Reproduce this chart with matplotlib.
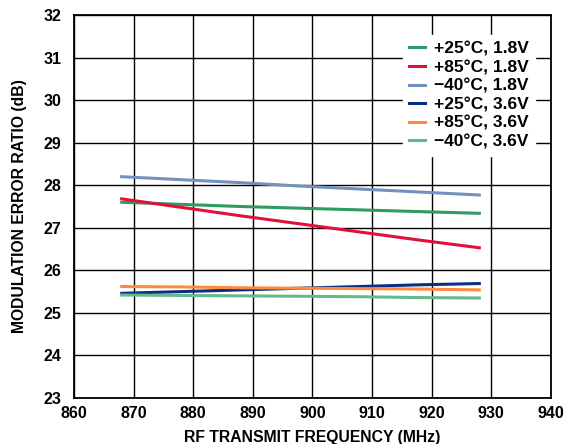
import matplotlib
matplotlib.use("Agg")
import matplotlib.pyplot as plt

plt.rcParams.update({
    "font.family": "Liberation Sans",
    "font.weight": "bold",
    "axes.labelweight": "bold",
    "font.size": 11.5,
})

freq = [868, 878, 888, 898, 908, 918, 928]

mer_25c_18v = [27.60, 27.55, 27.50, 27.46, 27.42, 27.38, 27.34]
mer_85c_18v = [27.68, 27.48, 27.28, 27.09, 26.90, 26.71, 26.53]
mer_m40c_18v = [28.20, 28.13, 28.06, 27.98, 27.91, 27.84, 27.77]
mer_25c_36v = [25.46, 25.50, 25.54, 25.58, 25.62, 25.66, 25.69]
mer_85c_36v = [25.62, 25.61, 25.59, 25.58, 25.57, 25.56, 25.54]
mer_m40c_36v = [25.42, 25.41, 25.40, 25.39, 25.38, 25.36, 25.35]

labels = ["+25°C, 1.8V", "+85°C, 1.8V", "\u221240°C, 1.8V",
          "+25°C, 3.6V", "+85°C, 3.6V", "\u221240°C, 3.6V"]
colors = ["#2f9a62", "#e0103a", "#7390bf", "#0a2f82", "#ff8a3d", "#66b98a"]
series = [mer_25c_18v, mer_85c_18v, mer_m40c_18v,
          mer_25c_36v, mer_85c_36v, mer_m40c_36v]

fig = plt.figure(figsize=(5.65, 4.44), dpi=100)
ax = fig.add_axes([0.131, 0.1036, 0.844, 0.8626])

for vals, lab, col in zip(series, labels, colors):
    ax.plot(freq, vals, color=col, lw=2.2, label=lab, zorder=3)

ax.set_xlim(860, 940)
ax.set_ylim(23, 32)
ax.set_xticks(range(860, 941, 10))
ax.set_yticks(range(23, 33))
ax.grid(True, color="black", lw=1.0)
ax.tick_params(axis="x", length=0, labelsize=11.5, pad=6)
ax.tick_params(axis="y", length=0, labelsize=11.5, pad=9)
for lbl in ax.get_xticklabels() + ax.get_yticklabels():
    lbl.set_fontweight("bold")
for sp in ax.spines.values():
    sp.set_linewidth(1.3)

ax.set_xlabel("RF TRANSMIT FREQUENCY (MHz)", fontsize=11.3, fontweight="bold", labelpad=6)
ax.set_ylabel("MODULATION ERROR RATIO (dB)", fontsize=11.3, fontweight="bold", labelpad=12)

leg = ax.legend(loc="upper right", bbox_to_anchor=(0.985, 0.97), frameon=True,
                fancybox=False, edgecolor="white", framealpha=1.0,
                handlelength=0.9, handletextpad=0.55, labelspacing=0.2,
                borderpad=0.35, prop={"weight": "bold", "size": 12.5})
leg.set_zorder(5)

fig.savefig("out.png", dpi=100)
